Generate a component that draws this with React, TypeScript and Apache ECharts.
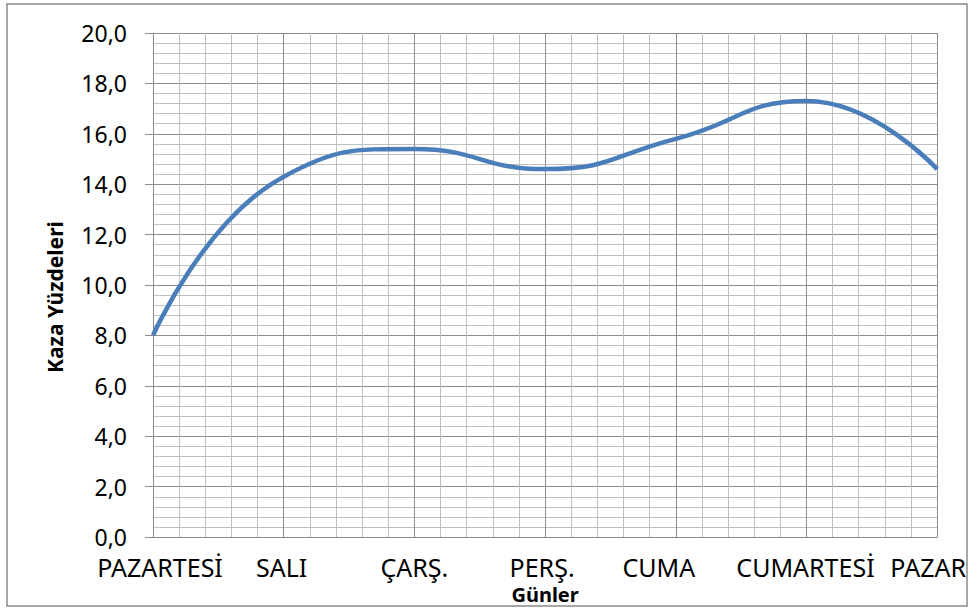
import React, { useEffect, useRef } from "react";
import * as echarts from "echarts";

const days = ["PAZARTESİ", "SALI", "ÇARŞ.", "PERŞ.", "CUMA", "CUMARTESİ", "PAZAR"];
const rates = [8.0, 14.3, 15.4, 14.6, 15.8, 17.3, 14.6];
const yMin = 0;
const yMax = 20;
const yStep = 2;

// horizontal nudges of the category labels (layout only)
const labelNudge = [7, -2, 0, -3, -17, -1, -9];

const FONT = "Noto Sans";

export default function App() {
  const ref = useRef<HTMLDivElement>(null);
  useEffect(() => {
    if (!ref.current) return;
    const chart = echarts.init(ref.current, null, { renderer: "svg" });
    const rich: Record<string, any> = {};
    labelNudge.forEach((n, i) => {
      rich["p" + i] = {
        fontFamily: FONT,
        fontSize: 25,
        color: "#000",
        padding: n >= 0 ? [0, 0, 0, 2 * n] : [0, -2 * n, 0, 0],
      };
    });
    chart.setOption({
      animation: false,
      backgroundColor: "#fff",
      grid: { left: 153, right: 31, top: 33, bottom: 71, containLabel: false },
      xAxis: [
        {
          type: "category",
          data: days,
          boundaryGap: false,
          axisLine: { show: true, lineStyle: { color: "#8c8c8c", width: 1 } },
          axisTick: { show: false },
          splitLine: { show: true, lineStyle: { color: "#8c8c8c", width: 1 } },
          axisLabel: {
            interval: 0,
            margin: 17,
            fontFamily: FONT,
            fontSize: 25,
            color: "#000",
            formatter: (v: string, i: number) => `{p${i}|${v}}`,
            rich,
          },
          name: "Günler",
          nameLocation: "middle",
          nameGap: 40,
          nameTextStyle: { fontFamily: FONT, fontSize: 20, fontWeight: "bold", color: "#000" },
        },
        {
          type: "value",
          min: 0,
          max: days.length - 1,
          interval: 1,
          position: "top",
          axisLabel: { show: false },
          axisLine: { show: false },
          axisTick: { show: false },
          splitLine: { show: false },
          minorTick: { show: false, splitNumber: 5 },
          minorSplitLine: { show: true, lineStyle: { color: "#c0c0c0", width: 1 } },
        },
      ],
      yAxis: {
        type: "value",
        min: yMin,
        max: yMax,
        interval: yStep,
        axisLine: { show: true, lineStyle: { color: "#8c8c8c", width: 1 } },
        axisTick: { show: true, length: 8, lineStyle: { color: "#8c8c8c", width: 1 } },
        splitLine: { show: true, lineStyle: { color: "#8c8c8c", width: 1 } },
        minorTick: { show: false, splitNumber: 5 },
        minorSplitLine: { show: true, lineStyle: { color: "#c0c0c0", width: 1 } },
        axisLabel: {
          margin: 26,
          fontFamily: FONT,
          fontSize: 23,
          color: "#000",
          formatter: (v: number) => v.toFixed(1).replace(".", ","),
        },
        name: "Kaza Yüzdeleri",
        nameLocation: "middle",
        nameGap: 88,
        nameRotate: 90,
        nameTextStyle: {
          fontFamily: FONT,
          fontSize: 21,
          fontWeight: "bold",
          color: "#000",
          padding: [0, 24, 0, 0],
        },
      },
      series: [
        {
          type: "line",
          data: rates,
          xAxisIndex: 0,
          yAxisIndex: 0,
          smooth: 0.5,
          symbol: "none",
          lineStyle: { color: "#4a7ebb", width: 4.5 },
          z: 5,
        },
      ],
      graphic: [
        {
          type: "rect",
          silent: true,
          shape: { x: 7, y: 4, width: 960, height: 602 },
          style: { fill: "none", stroke: "#8a8a8a", lineWidth: 1.5 },
        },
      ],
    });
    return () => chart.dispose();
  }, []);
  return (
    <div
      ref={ref}
      style={{ position: "fixed", left: 0, top: 0, width: 969, height: 609 }}
    />
  );
}
